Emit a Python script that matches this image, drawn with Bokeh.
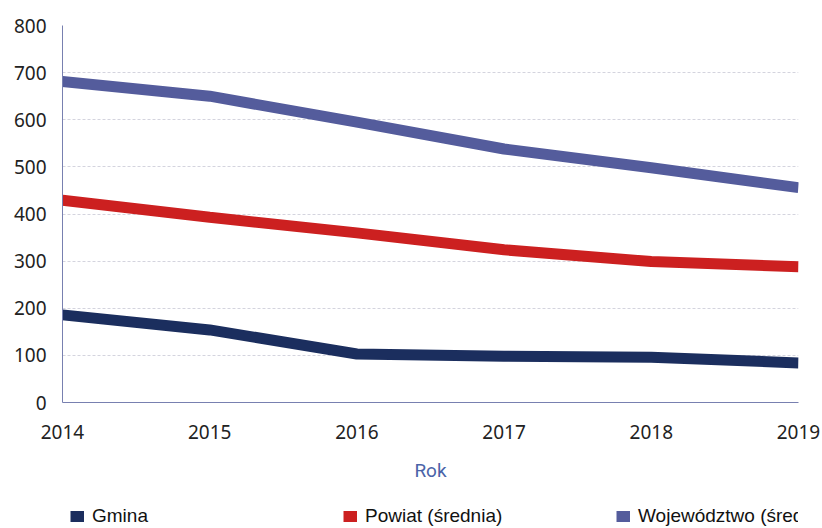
from bokeh.plotting import figure
from bokeh.layouts import column
from bokeh.models import Range1d, FixedTicker, Legend, LegendItem
from bokeh.embed import file_html
from bokeh.resources import INLINE

years = [2014, 2015, 2016, 2017, 2018, 2019]
gmina = [186, 154, 103, 98, 96, 84]
powiat = [429, 393, 360, 324, 299, 288]
wojewodztwo = [681, 650, 595, 538, 498, 456]
y_ticks = [0, 100, 200, 300, 400, 500, 600, 700, 800]
series_names = ["Gmina", "Powiat (średnia)", "Województwo (średnia)"]
colors = ["#1b2e5e", "#cc2020", "#545c9c"]
series = [gmina, powiat, wojewodztwo]

# main chart
p = figure(width=822, height=498, output_backend="svg", toolbar_location=None,
           x_range=Range1d(2014, 2019), y_range=Range1d(0, 800),
           min_border_left=62, min_border_right=24, min_border_top=25, min_border_bottom=96)
p.outline_line_color = None

for vals, c in zip(series, colors):
    p.line(years, vals, line_width=11, color=c)

p.xaxis.ticker = FixedTicker(ticks=years)
p.yaxis.ticker = FixedTicker(ticks=y_ticks)
for ax in (p.xaxis[0], p.yaxis[0]):
    ax.major_tick_line_color = None
    ax.minor_tick_line_color = None
    ax.major_label_text_font = "Noto Sans"
    ax.major_label_text_font_size = "19px"
    ax.major_label_text_color = "#222222"
    ax.axis_line_color = "#7880b0"
p.yaxis.major_tick_out = 0
p.yaxis.minor_tick_out = 0
p.yaxis.major_label_standoff = 16
p.xaxis.major_label_standoff = 16
p.xaxis.axis_label = "Rok"
p.xaxis.axis_label_text_font = "Roboto"
p.xaxis.axis_label_text_font_style = "normal"
p.xaxis.axis_label_text_font_size = "19px"
p.xaxis.axis_label_text_color = "#4a63a8"
p.xaxis.axis_label_standoff = 17

p.xgrid.grid_line_color = None
p.ygrid.grid_line_color = "#d4d4de"
p.ygrid.grid_line_dash = "3 2"

# legend strip
lg = figure(width=822, height=30, output_backend="svg", toolbar_location=None,
            x_axis_type=None, y_axis_type=None,
            min_border_left=0, min_border_right=0, min_border_top=0, min_border_bottom=0)
lg.outline_line_color = None
lg.xgrid.grid_line_color = None
lg.ygrid.grid_line_color = None
items = []
for name, vals, c in zip(series_names, series, colors):
    r = lg.line(years, vals, line_width=11, color=c, visible=False)
    items.append(LegendItem(label=name, renderers=[r]))

legend = Legend(items=items, orientation="horizontal", location=(8, 1),
                glyph_width=14, glyph_height=12, label_standoff=8,
                label_width=243, spacing=8, padding=0, margin=0,
                label_text_font="Liberation Sans", label_text_font_size="19px",
                label_text_color="#111111", border_line_color=None,
                background_fill_alpha=0)
lg.add_layout(legend, "center")

layout = column(p, lg, spacing=0)
open("out.html", "w").write(file_html(layout, INLINE))
